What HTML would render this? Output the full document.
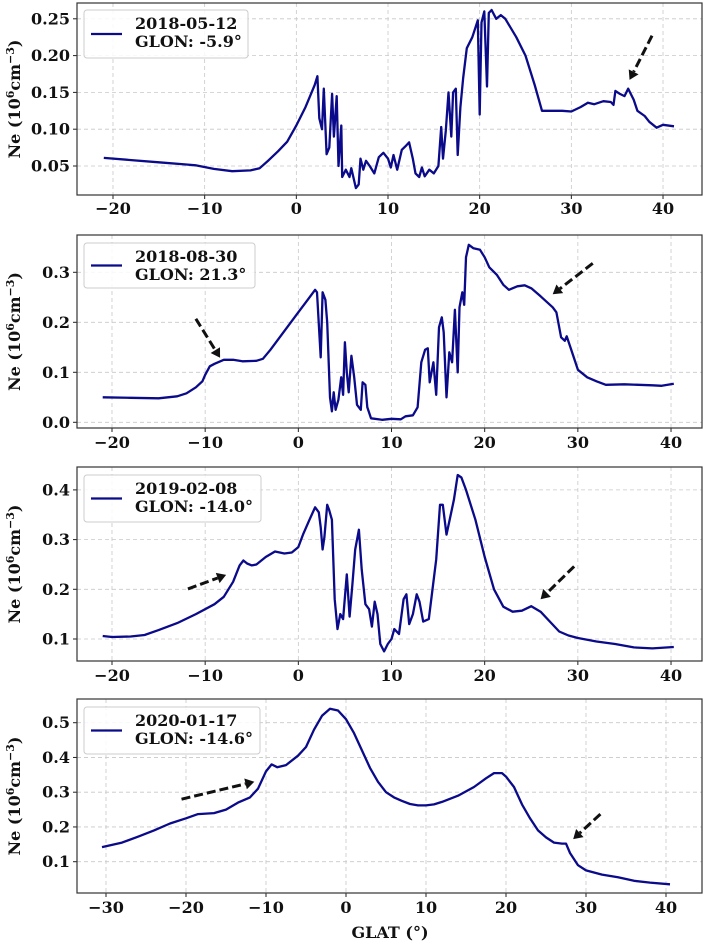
<!DOCTYPE html>
<html><head><meta charset="utf-8"><style>
body{margin:0;background:#fff;width:706px;height:945px;overflow:hidden}
svg text{font-family:"DejaVu Serif","Liberation Serif",serif;font-weight:bold;fill:#111}
</style></head><body>
<svg id="fig" width="706" height="945" viewBox="0 0 706 945" xmlns="http://www.w3.org/2000/svg"></svg>
<script>
// Panel 1 data: 2018-05-12
const lat1=[-21,-18,-15,-12,-11,-9,-7,-5,-4,-3,-2,-1,0,1,1.5,2,2.3,2.5,2.8,3.0,3.3,3.6,3.9,4.1,4.4,4.6,4.9,5.0,5.4,5.8,6.0,6.5,6.8,7.0,7.3,7.6,8.0,8.5,9,9.5,10,10.3,10.6,11,11.5,12,12.3,12.7,13,13.4,13.7,14,14.5,15,15.5,15.8,16,16.3,16.6,16.9,17.1,17.4,17.6,17.9,18.2,18.6,19.2,19.8,20.0,20.2,20.5,20.8,21.0,21.3,21.8,22.3,22.8,24,25,26,26.8,28,29,30,31,31.8,32.5,33.5,34.3,34.6,34.8,35.3,35.8,36.2,36.8,37.2,38,38.5,39.3,40,41.2];
const ne1=[0.061,0.058,0.055,0.052,0.051,0.046,0.043,0.044,0.047,0.058,0.07,0.083,0.105,0.13,0.145,0.16,0.172,0.115,0.1,0.155,0.066,0.075,0.148,0.09,0.145,0.05,0.105,0.035,0.045,0.035,0.047,0.02,0.025,0.06,0.045,0.057,0.05,0.04,0.062,0.068,0.06,0.048,0.065,0.045,0.072,0.078,0.082,0.06,0.04,0.035,0.048,0.036,0.045,0.04,0.05,0.103,0.06,0.098,0.15,0.09,0.15,0.155,0.065,0.13,0.17,0.21,0.225,0.248,0.12,0.245,0.26,0.158,0.258,0.262,0.25,0.255,0.25,0.225,0.2,0.16,0.125,0.125,0.125,0.124,0.13,0.136,0.134,0.138,0.137,0.133,0.152,0.148,0.145,0.155,0.14,0.125,0.118,0.11,0.102,0.106,0.104];
const ticks1X=[-20,-10,0,10,20,30,40];
const ticks1Y=[0.05,0.10,0.15,0.20,0.25];
const arrows1=[[38.8,0.227,36.35,0.167]];
// Panel 2 data: 2018-08-30
const lat2=[-21,-18,-15,-13,-12,-11,-10.3,-10,-9.5,-9,-8,-7,-6,-4.5,-3.8,-3,-2,-1,0,1,1.8,2.0,2.4,2.6,2.9,3.1,3.4,3.6,3.8,4.0,4.3,4.6,4.8,5.0,5.2,5.4,5.7,6.0,6.3,6.7,6.9,7.2,7.4,7.8,9,10,11,11.5,12.3,12.8,13.2,13.6,13.9,14.1,14.5,14.8,15.1,15.4,15.6,15.9,16.2,16.5,16.8,17.1,17.3,17.6,17.8,18.0,18.3,18.8,19.5,20,20.5,21.3,22,22.6,23.5,24.3,25,26,27.3,27.7,28.2,28.6,28.8,29.2,30,31,32,33,35,38,39,40.3];
const ne2=[0.05,0.049,0.048,0.052,0.058,0.07,0.082,0.095,0.112,0.117,0.125,0.125,0.122,0.123,0.127,0.145,0.17,0.195,0.22,0.245,0.265,0.26,0.13,0.26,0.245,0.2,0.05,0.022,0.06,0.025,0.045,0.09,0.055,0.16,0.1,0.06,0.133,0.09,0.035,0.025,0.08,0.075,0.03,0.008,0.005,0.007,0.006,0.012,0.014,0.03,0.12,0.145,0.148,0.08,0.12,0.055,0.19,0.21,0.18,0.05,0.14,0.12,0.225,0.1,0.23,0.26,0.235,0.33,0.355,0.348,0.345,0.33,0.31,0.295,0.275,0.265,0.272,0.274,0.268,0.252,0.23,0.22,0.17,0.163,0.172,0.15,0.105,0.09,0.082,0.075,0.076,0.074,0.073,0.077];
const ticks2X=[-20,-10,0,10,20,30,40];
const ticks2Y=[0.0,0.1,0.2,0.3];
const arrows2=[[-11.0,0.207,-8.4,0.129],[31.6,0.318,27.3,0.256]];
// Panel 3 data: 2019-02-08
const lat3=[-21,-20,-18,-16.5,-15,-13,-11,-9,-8,-7,-6.3,-5.9,-5.5,-5,-4.5,-3.5,-2.5,-1.5,-0.7,0,0.5,1.2,1.8,2.2,2.4,2.6,2.8,3.1,3.3,3.6,3.9,4.2,4.5,4.8,5.2,5.5,5.8,6.1,6.5,6.8,7.2,7.6,7.9,8.2,8.5,8.8,9.2,9.6,10,10.3,10.8,11.3,11.6,11.9,12.3,12.7,13,13.4,14,14.4,14.8,15.2,15.5,15.9,16.3,16.7,17.1,17.5,18,19,20,21,22,23,24,25,26,27,28,29,30,32,34,36,38,40.3];
const ne3=[0.106,0.104,0.105,0.108,0.118,0.132,0.15,0.17,0.185,0.215,0.248,0.258,0.252,0.248,0.25,0.265,0.276,0.272,0.274,0.285,0.31,0.34,0.365,0.355,0.325,0.28,0.305,0.37,0.36,0.34,0.18,0.12,0.15,0.14,0.23,0.145,0.21,0.28,0.32,0.24,0.17,0.16,0.125,0.175,0.15,0.09,0.075,0.09,0.1,0.12,0.11,0.18,0.19,0.13,0.15,0.19,0.175,0.135,0.14,0.2,0.26,0.37,0.37,0.31,0.345,0.38,0.43,0.425,0.4,0.34,0.265,0.2,0.165,0.155,0.157,0.166,0.155,0.135,0.115,0.107,0.102,0.095,0.09,0.083,0.081,0.084];
const ticks3X=[-20,-10,0,10,20,30,40];
const ticks3Y=[0.1,0.2,0.3,0.4];
const arrows3=[[-11.85,0.2007,-7.75,0.229],[29.6,0.246,26.0,0.18]];
// Panel 4 data: 2020-01-17
const lat4=[-30.5,-28,-26,-24,-22,-20,-18.5,-16.5,-15,-13.5,-12,-11,-10,-9.3,-8.6,-7.5,-6,-5,-4,-3,-2,-1,0,1,2,3,4,5,6,7,8,9,10,11,12,14,16,17.5,18.5,19.5,20,21,22,23,24,25,26,27,27.5,28,29,30,32,34,36,38,40.5];
const ne4=[0.142,0.155,0.172,0.19,0.21,0.225,0.237,0.24,0.25,0.27,0.285,0.31,0.36,0.38,0.372,0.378,0.405,0.43,0.48,0.52,0.54,0.535,0.51,0.47,0.42,0.37,0.33,0.3,0.285,0.275,0.266,0.262,0.262,0.265,0.272,0.29,0.315,0.34,0.355,0.355,0.345,0.315,0.265,0.225,0.19,0.17,0.155,0.152,0.152,0.125,0.09,0.075,0.063,0.055,0.045,0.04,0.035];
const ticks4X=[-30,-20,-10,0,10,20,30,40];
const ticks4Y=[0.1,0.2,0.3,0.4,0.5];
const arrows4=[[-20.56,0.28,-11.46,0.33],[31.8,0.237,28.4,0.165]];

const NS="http://www.w3.org/2000/svg";
const fig=document.getElementById('fig');
function mk(tag,attrs,parent){const e=document.createElementNS(NS,tag);for(const k in attrs)e.setAttribute(k,attrs[k]);(parent||fig).appendChild(e);return e;}

const panels=[
 {lat:lat1,ne:ne1,tx:ticks1X,ty:ticks1Y,ar:arrows1,top:3,bot:195,x0:113,xl0:-20,xs:9.167,yv0:0.05,yp0:166,ys:736,fmt:2,date:'2018-05-12',glon:'-5.9',leg:[84,10,164,48],xlab:214},
 {lat:lat2,ne:ne2,tx:ticks2X,ty:ticks2Y,ar:arrows2,top:235,bot:428,x0:112,xl0:-20,xs:9.317,yv0:0,yp0:422.3,ys:500,fmt:1,date:'2018-08-30',glon:'21.3',leg:[84,243,171,45],xlab:448},
 {lat:lat3,ne:ne3,tx:ticks3X,ty:ticks3Y,ar:arrows3,top:467,bot:661,x0:112,xl0:-20,xs:9.317,yv0:0.1,yp0:639,ys:497,fmt:1,date:'2019-02-08',glon:'-14.0',leg:[84,475,177,47],xlab:681},
 {lat:lat4,ne:ne4,tx:ticks4X,ty:ticks4Y,ar:arrows4,top:699,bot:893,x0:106,xl0:-30,xs:8.0,yv0:0.1,yp0:861.7,ys:347.5,fmt:1,date:'2020-01-17',glon:'-14.6',leg:[84,707,176,47],xlab:913}
];
const L=77,R=702;
panels.forEach((p,i)=>{
  const X=l=>p.x0+(l-p.xl0)*p.xs;
  const Y=v=>p.yp0-(v-p.yv0)*p.ys;
  const g=mk('g',{});
  
  
  p.tx.forEach(t=>{
    const gl=mk('line',{x1:X(t),x2:X(t),y1:p.top,y2:p.bot,stroke:'#c8c8c8','stroke-width':0.8,'stroke-dasharray':'4,3'},g);
    
    
    mk('line',{x1:X(t),x2:X(t),y1:p.bot,y2:p.bot+4,stroke:'#222','stroke-width':1},g);
    const tl=mk('text',{x:X(t),y:p.xlab,'text-anchor':'middle','font-size':16},g);
    tl.textContent=(t<0?'\u2212'+(-t):t);
    
    
  });
  p.ty.forEach(t=>{
    const gl=mk('line',{x1:L,x2:R,y1:Y(t),y2:Y(t),stroke:'#c8c8c8','stroke-width':0.8,'stroke-dasharray':'4,3'},g);
    
    
    mk('line',{x1:L-4,x2:L,y1:Y(t),y2:Y(t),stroke:'#222','stroke-width':1},g);
    const tl=mk('text',{x:L-7,y:Y(t)+5.5,'text-anchor':'end','font-size':16},g);
    tl.textContent=t.toFixed(p.fmt);
    
    
  });
  let d='';
  p.lat.forEach((l,j)=>{d+=(j?'L':'M')+X(l).toFixed(1)+','+Y(p.ne[j]).toFixed(1);});
  const ln=mk('path',{d:d,fill:'none',stroke:'#0a0a8a','stroke-width':2.3,'stroke-linejoin':'round'},g);
  
  
  p.ar.forEach(a=>{
    const x1=X(a[0]),y1=Y(a[1]),x2=X(a[2]),y2=Y(a[3]);
    const dx=x2-x1,dy=y2-y1,len=Math.hypot(dx,dy),ux=dx/len,uy=dy/len;
    const bx=x2-ux*9,by=y2-uy*9;
    const ag=mk('g',{},g);
    
    
    mk('line',{x1:x1,y1:y1,x2:bx,y2:by,stroke:'#111','stroke-width':3,'stroke-dasharray':'9,4'},ag);
    mk('polygon',{points:`${x2},${y2} ${bx-uy*5.5},${by+ux*5.5} ${bx+uy*5.5},${by-ux*5.5}`,fill:'#111'},ag);
  });
  const fr=mk('rect',{x:L,y:p.top,width:R-L,height:p.bot-p.top,fill:'none',stroke:'#333','stroke-width':1.2},g);
  
  
  const lg=mk('g',{},g);
  
  
  const [lx,ly,lw,lh]=p.leg;
  mk('rect',{x:lx,y:ly,width:lw,height:lh,rx:3,fill:'#fff','fill-opacity':0.85,stroke:'#ccc','stroke-width':1},lg);
  mk('line',{x1:lx+7,x2:lx+38,y1:ly+lh/2,y2:ly+lh/2,stroke:'#0a0a8a','stroke-width':2.3},lg);
  const t1=mk('text',{x:lx+51,y:ly+19,'font-size':16},lg);t1.textContent=p.date;
  const t2=mk('text',{x:lx+51,y:ly+37,'font-size':16},lg);t2.textContent='GLON: '+p.glon+'\u00b0';
  const yl=mk('text',{x:0,y:0,'text-anchor':'middle','font-size':16,transform:`translate(20,${(p.top+p.bot)/2}) rotate(-90)`},g);
  yl.innerHTML='Ne (10<tspan font-size="11" dy="-6">6</tspan><tspan dy="6">cm</tspan><tspan font-size="11" dy="-6">\u22123</tspan><tspan dy="6">)</tspan>';
  
  
});
const xt=mk('text',{x:390,y:938,'text-anchor':'middle','font-size':16});
xt.textContent='GLAT (\u00b0)';


</script>
</body></html>
